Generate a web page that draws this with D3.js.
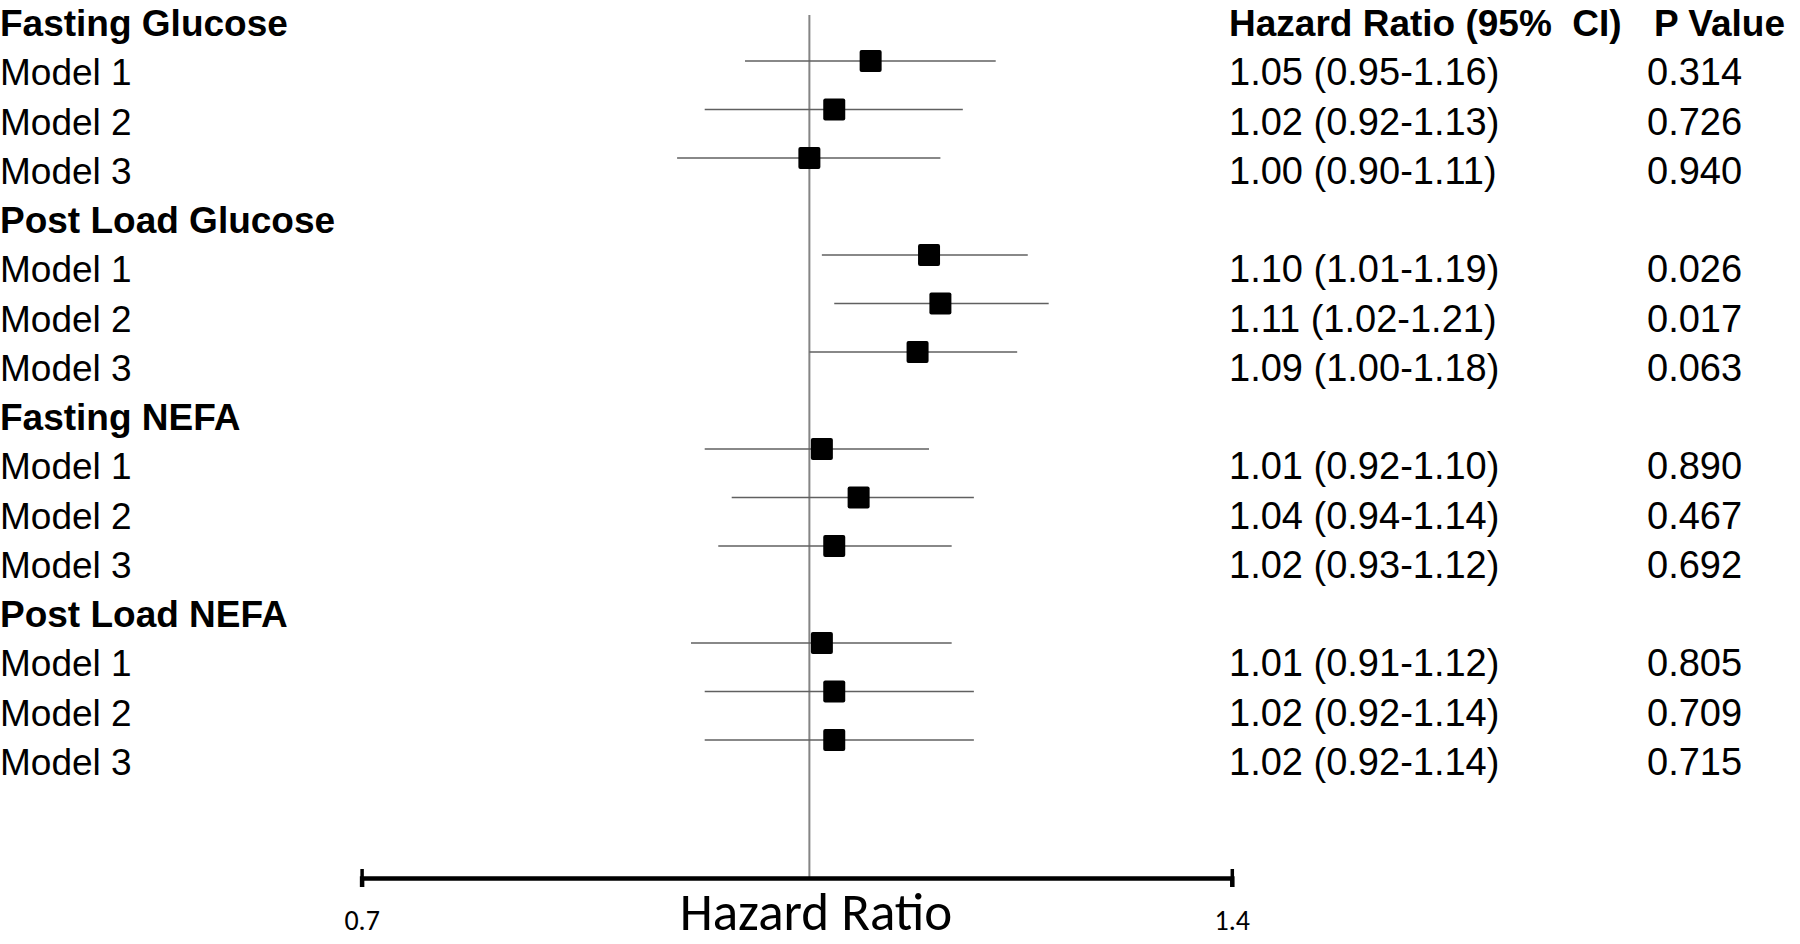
<!DOCTYPE html>
<html>
<head>
<meta charset="utf-8">
<script src="https://cdn.jsdelivr.net/npm/d3@7"></script>
<style>
  body { margin: 0; background: #fff; }
  svg { display: block; }
</style>
</head>
<body>
<svg></svg>
<script>
const groups = ['Fasting Glucose', 'Post Load Glucose', 'Fasting NEFA', 'Post Load NEFA'];
const models = ['Model 1', 'Model 2', 'Model 3'];
const hr = [1.05, 1.02, 1.00, 1.10, 1.11, 1.09, 1.01, 1.04, 1.02, 1.01, 1.02, 1.02];
const lower = [0.95, 0.92, 0.90, 1.01, 1.02, 1.00, 0.92, 0.94, 0.93, 0.91, 0.92, 0.92];
const upper = [1.16, 1.13, 1.11, 1.19, 1.21, 1.18, 1.10, 1.14, 1.12, 1.12, 1.14, 1.14];
const pValues = ['0.314', '0.726', '0.940', '0.026', '0.017', '0.063', '0.890', '0.467', '0.692', '0.805', '0.709', '0.715'];
const tickValues = [0.7, 1.4];

const svgWidth = 1800;
const svgHeight = 944;
const armFont = '"Liberation Sans", Arial, sans-serif';
const calFont = 'Carlito, Lato, sans-serif';

const svg = d3.select('svg')
    .attr('width', svgWidth)
    .attr('height', svgHeight);

// one entry per text row: group header followed by its models
const rows = [];
const estimates = [];
groups.forEach((g, gi) => {
    rows.push({ label: g, header: true });
    models.forEach((m, mi) => {
        const k = gi * 3 + mi;
        const row = { label: m, header: false, hr: hr[k], lo: lower[k], hi: upper[k], p: pValues[k] };
        row.index = rows.length;
        rows.push(row);
        estimates.push(row);
    });
});

const xScale = d3.scaleLog()
    .domain([0.7, 1.4])
    .range([361.6, 1231.8]);

// baselines for the text rows
const textY = d3.scaleLinear()
    .domain([0, rows.length - 1])
    .range([36, 775]);

// centres for the plotted estimates
const markY = d3.scaleLinear()
    .domain([1, rows.length - 1])
    .range([61, 740]);

const axisY = 878;

// reference line at HR = 1
svg.append('line')
    .attr('x1', xScale(1)).attr('x2', xScale(1))
    .attr('y1', 15).attr('y2', axisY)
    .attr('stroke', '#858585')
    .attr('stroke-width', 2);

// confidence intervals
svg.selectAll('.ci')
    .data(estimates)
    .enter().append('line')
    .attr('class', 'ci')
    .attr('x1', d => xScale(d.lo))
    .attr('x2', d => xScale(d.hi))
    .attr('y1', d => markY(d.index))
    .attr('y2', d => markY(d.index))
    .attr('stroke', '#606060')
    .attr('stroke-width', 1.5);

const box = 22;
svg.selectAll('.box')
    .data(estimates)
    .enter().append('rect')
    .attr('class', 'box')
    .attr('x', d => xScale(d.hr) - box / 2)
    .attr('y', d => markY(d.index) - box / 2)
    .attr('width', box)
    .attr('height', box)
    .attr('rx', 2)
    .attr('fill', '#000');

// axis
const axis = svg.append('g')
    .attr('transform', `translate(0, ${axisY})`)
    .call(d3.axisBottom(xScale)
        .tickValues(tickValues)
        .tickFormat(d3.format('.1f'))
        .tickSizeOuter(0)
        .tickSize(9)
        .tickPadding(0));

axis.select('.domain')
    .attr('stroke', '#000')
    .attr('stroke-width', 4.5);

axis.selectAll('.tick line')
    .attr('y1', -9)
    .attr('stroke', '#000')
    .attr('stroke-width', 3.5);

axis.selectAll('.tick text')
    .attr('y', 52)
    .attr('dy', 0)
    .attr('fill', '#000')
    .attr('font-family', calFont)
    .attr('font-size', '28px');

svg.append('text')
    .attr('x', 816)
    .attr('y', 930)
    .attr('text-anchor', 'middle')
    .attr('font-family', calFont)
    .attr('font-size', '53px')
    .attr('fill', '#000')
    .text('Hazard Ratio');

// left labels
svg.selectAll('.label')
    .data(rows)
    .enter().append('text')
    .attr('class', 'label')
    .attr('x', 0)
    .attr('y', (d, i) => textY(i))
    .attr('font-family', armFont)
    .attr('font-size', '37px')
    .attr('font-weight', d => d.header ? 'bold' : 'normal')
    .attr('fill', '#000')
    .text(d => d.label);

// column headers
svg.append('text')
    .attr('x', 1229)
    .attr('y', textY(0))
    .attr('font-family', armFont)
    .attr('font-size', '37px')
    .attr('font-weight', 'bold')
    .style('white-space', 'pre')
    .text('Hazard Ratio (95%  CI)');

svg.append('text')
    .attr('x', 1654)
    .attr('y', textY(0))
    .attr('font-family', armFont)
    .attr('font-size', '37px')
    .attr('font-weight', 'bold')
    .text('P Value');

// estimate text columns
svg.selectAll('.hrtext')
    .data(estimates)
    .enter().append('text')
    .attr('class', 'hrtext')
    .attr('x', 1229)
    .attr('y', d => textY(d.index))
    .attr('font-family', armFont)
    .attr('font-size', '38px')
    .attr('fill', '#000')
    .text(d => `${d.hr.toFixed(2)} (${d.lo.toFixed(2)}-${d.hi.toFixed(2)})`);

svg.selectAll('.ptext')
    .data(estimates)
    .enter().append('text')
    .attr('class', 'ptext')
    .attr('x', 1647)
    .attr('y', d => textY(d.index))
    .attr('font-family', armFont)
    .attr('font-size', '38px')
    .attr('fill', '#000')
    .text(d => d.p);
</script>
</body>
</html>
